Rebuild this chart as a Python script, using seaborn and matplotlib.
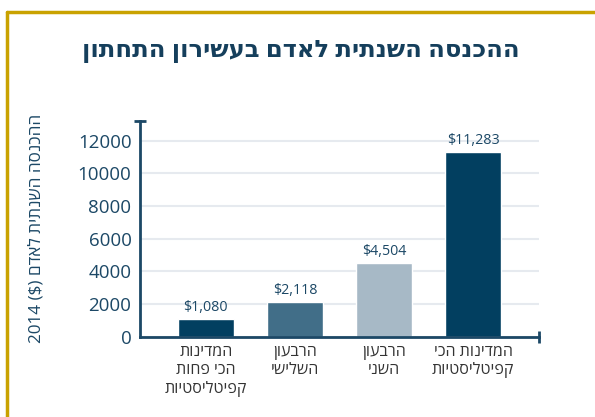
import pandas as pd
import numpy as np
import matplotlib.pyplot as plt
import seaborn as sns
from matplotlib.lines import Line2D

# data
categories = ["המדינות\nהכי פחות\nקפיטליסטיות", "הרבעון\nהשלישי", "הרבעון\nהשני", "המדינות הכי\nקפיטליסטיות"]
income = [1080, 2118, 4504, 11283]
value_labels = ["$1,080", "$2,118", "$4,504", "$11,283"]
bar_colors = ["#023f60", "#416e88", "#a7b9c6", "#023f60"]
yticks = [0, 2000, 4000, 6000, 8000, 10000, 12000]

title = "ההכנסה השנתית לאדם בעשירון התחתון"
ylabel_he = "ההכנסה השנתית לאדם"


# matplotlib has no bidi support, so reverse the Hebrew lines by hand
def rtl(s):
    return "\n".join(line[::-1] for line in s.split("\n"))


sns.set_style("white")
plt.rcParams['font.family'] = ['Open Sans', 'DejaVu Sans']

navy = "#1c4866"

df = pd.DataFrame({"cat": [rtl(c) for c in categories], "income": income})

fig = plt.figure(figsize=(5.95, 4.17), dpi=100)
ax = fig.add_axes([0.235, 0.192, 0.671, 0.518])

sns.barplot(data=df, x="cat", y="income", hue="cat", palette=bar_colors,
            legend=False, width=0.63, saturation=1, ax=ax)

ax.set_ylim(0, 13200)
ax.set_xlim(-0.74, 3.74)
ax.set_yticks(yticks)
ax.yaxis.grid(True, color="#e6eaef", linewidth=1.5)
ax.set_axisbelow(True)

for side in ["top", "right"]:
    ax.spines[side].set_visible(False)
for side in ["left", "bottom"]:
    ax.spines[side].set_color(navy)
    ax.spines[side].set_linewidth(2)

ax.tick_params(axis="y", length=0, labelsize=13.5, labelcolor=navy, pad=6)
ax.tick_params(axis="x", length=0, labelsize=11.5, labelcolor="#333333", pad=5)
ax.set_xlabel("")
ax.set_ylabel("2014 ($) " + rtl(ylabel_he), fontsize=12.3, color=navy, labelpad=24)

# small caps at the axis ends
ax.plot([0], [1], marker="_", markersize=8, markeredgewidth=2, color=navy,
        transform=ax.transAxes, clip_on=False)
ax.plot([1], [0], marker="|", markersize=8, markeredgewidth=2, color=navy,
        transform=ax.transAxes, clip_on=False)

for i, (v, lab) in enumerate(zip(income, value_labels)):
    ax.annotate(lab, (i, v), xytext=(0, 3), textcoords="offset points",
                ha="center", va="bottom", fontsize=10.3, color=navy)

fig.text(0.505, 0.878, rtl(title), ha="center", va="center", fontsize=17.5,
         fontweight="bold", color="#153f5c")

# gold frame on the top and left
gold = "#c9a200"
fig.add_artist(Line2D([0.012, 1.0], [0.972, 0.972], color=gold, linewidth=2.5,
                      transform=fig.transFigure))
fig.add_artist(Line2D([0.012, 0.012], [0.0, 0.972], color=gold, linewidth=2.5,
                      transform=fig.transFigure))

fig.savefig("out.png", dpi=100)
